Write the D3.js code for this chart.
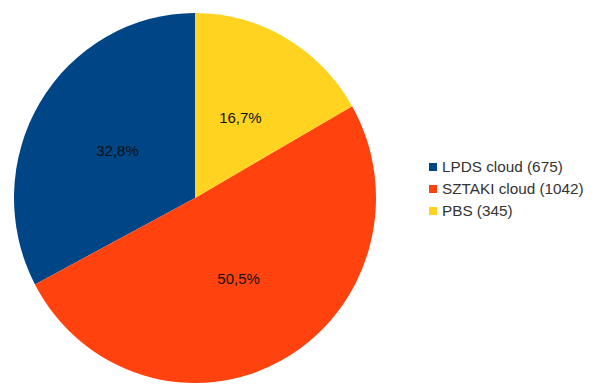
<!DOCTYPE html>
<html><head><meta charset="utf-8">
<script src="https://cdn.jsdelivr.net/npm/d3@7"></script>
<style>body{margin:0;background:#fff}svg{display:block}</style>
</head><body>
<script>
const categories = ["LPDS cloud", "SZTAKI cloud", "PBS"];
const counts = [675, 1042, 345];
const percentLabels = ["32,8%", "50,5%", "16,7%"];
const colors = ["#004586", "#ff420e", "#ffd320"];

const W = 597, H = 384;
const cx = 195, cy = 198, rx = 181, ry = 185;
const svg = d3.select("body").append("svg").attr("width", W).attr("height", H);

const data = categories.map((c, i) => ({name: c, value: counts[i], label: percentLabels[i], color: colors[i]}));
const pie = d3.pie().value(d => d.value).sort(null).startAngle(0).endAngle(-2 * Math.PI);
const arcs = pie(data);
const arc = d3.arc().innerRadius(0).outerRadius(rx);

const g = svg.append("g").attr("transform", `translate(${cx},${cy}) scale(1,${ry / rx})`);
g.selectAll("path").data(arcs).join("path")
  .attr("d", arc).attr("fill", d => d.data.color);

svg.selectAll("text.lbl").data(arcs).join("text")
  .attr("class", "lbl")
  .attr("x", d => cx + arc.centroid(d)[0])
  .attr("y", d => cy + arc.centroid(d)[1] * ry / rx)
  .attr("text-anchor", "middle").attr("dy", "0.35em")
  .attr("font-family", "Liberation Sans, Arial, sans-serif").attr("font-size", 15)
  .attr("fill", "#111")
  .text(d => d.data.label);

const leg = svg.append("g");
const rows = leg.selectAll("g").data(data).join("g")
  .attr("transform", (d, i) => `translate(429,${167 + i * 22})`);
rows.append("rect").attr("x", 0).attr("y", -4).attr("width", 8).attr("height", 8).attr("fill", d => d.color);
rows.append("text").attr("x", 13).attr("dy", "0.35em")
  .attr("font-family", "Liberation Sans, Arial, sans-serif").attr("font-size", 15.3)
  .attr("fill", "#333").text(d => `${d.name} (${d.value})`);
</script>
</body></html>
